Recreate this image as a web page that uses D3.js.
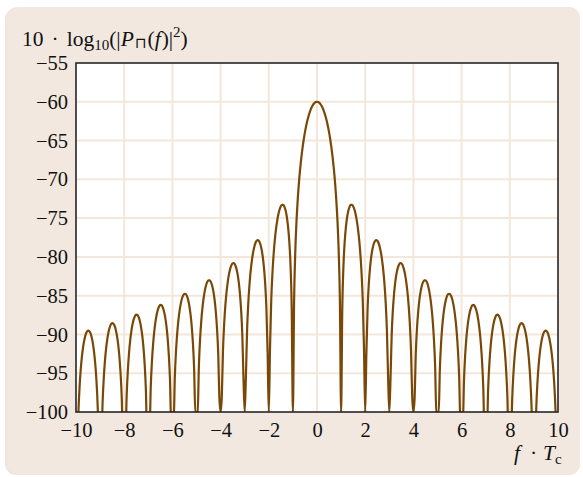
<!DOCTYPE html>
<html>
<head>
<meta charset="utf-8">
<script src="https://cdn.jsdelivr.net/npm/d3@7/dist/d3.min.js"></script>
<style>
  html, body { margin: 0; padding: 0; background: #ffffff; }
  svg { display: block; }
  text { font-family: "Liberation Serif", "Times New Roman", "DejaVu Serif", serif; fill: #111; }
</style>
</head>
<body>
<svg id="chart" width="583" height="477"></svg>
<script>
// Power spectrum of the rectangular pulse, in dB, sampled every 0.05 in f·Tc
// from −10 to 10. null marks a spectral zero (level below the plot floor).
const freqStart = -10;
const freqStep = 0.05;
const levelDb = [
  null, -106.01, -100.06, -96.67, -94.38, -92.73, -91.52, -90.64, -90.02, -89.65, -89.50, -89.56, -89.84, -90.36, -91.15, -92.28, -93.83, -96.03, -99.32, -105.19,
  null, -105.09, -99.13, -95.74, -93.45, -91.79, -90.57, -89.69, -89.07, -88.69, -88.53, -88.59, -88.86, -89.38, -90.17, -91.28, -92.84, -95.03, -98.31, -104.17,
  null, -104.06, -98.10, -94.70, -92.40, -90.74, -89.51, -88.62, -88.00, -87.61, -87.44, -87.49, -87.76, -88.27, -89.05, -90.16, -91.71, -93.89, -97.17, -103.02,
  null, -102.90, -96.92, -93.52, -91.21, -89.54, -88.31, -87.40, -86.77, -86.38, -86.20, -86.24, -86.50, -87.00, -87.77, -88.87, -90.41, -92.58, -95.85, -101.69,
  null, -101.55, -95.56, -92.15, -89.83, -88.15, -86.90, -85.99, -85.34, -84.94, -84.75, -84.78, -85.03, -85.51, -86.27, -87.36, -88.88, -91.04, -94.29, -100.12,
  null, -99.95, -93.95, -90.52, -88.18, -86.49, -85.23, -84.29, -83.63, -83.21, -83.01, -83.02, -83.25, -83.71, -84.45, -85.52, -87.02, -89.16, -92.40, -98.21,
  null, -97.99, -91.96, -88.51, -86.15, -84.43, -83.15, -82.19, -81.51, -81.06, -80.82, -80.81, -81.01, -81.45, -82.15, -83.19, -84.66, -86.77, -89.97, -95.74,
  null, -95.45, -89.39, -85.90, -83.50, -81.74, -80.41, -79.41, -78.68, -78.18, -77.90, -77.83, -77.98, -78.37, -79.02, -80.00, -81.41, -83.45, -86.59, -92.29,
  null, -91.86, -85.72, -82.15, -79.66, -77.81, -76.39, -75.29, -74.46, -73.86, -73.46, -73.28, -73.30, -73.55, -74.06, -74.89, -76.14, -78.02, -80.97, -86.48,
  null, -85.61, -79.23, -75.39, -72.62, -70.45, -68.69, -67.20, -65.94, -64.86, -63.92, -63.12, -62.42, -61.83, -61.33, -60.91, -60.58, -60.32, -60.14, -60.04,
  -60.00,
  -60.04, -60.14, -60.32, -60.58, -60.91, -61.33, -61.83, -62.42, -63.12, -63.92, -64.86, -65.94, -67.20, -68.69, -70.45, -72.62, -75.39, -79.23, -85.61, null,
  -86.48, -80.97, -78.02, -76.14, -74.89, -74.06, -73.55, -73.30, -73.28, -73.46, -73.86, -74.46, -75.29, -76.39, -77.81, -79.66, -82.15, -85.72, -91.86, null,
  -92.29, -86.59, -83.45, -81.41, -80.00, -79.02, -78.37, -77.98, -77.83, -77.90, -78.18, -78.68, -79.41, -80.41, -81.74, -83.50, -85.90, -89.39, -95.45, null,
  -95.74, -89.97, -86.77, -84.66, -83.19, -82.15, -81.45, -81.01, -80.81, -80.82, -81.06, -81.51, -82.19, -83.15, -84.43, -86.15, -88.51, -91.96, -97.99, null,
  -98.21, -92.40, -89.16, -87.02, -85.52, -84.45, -83.71, -83.25, -83.02, -83.01, -83.21, -83.63, -84.29, -85.23, -86.49, -88.18, -90.52, -93.95, -99.95, null,
  -100.12, -94.29, -91.04, -88.88, -87.36, -86.27, -85.51, -85.03, -84.78, -84.75, -84.94, -85.34, -85.99, -86.90, -88.15, -89.83, -92.15, -95.56, -101.55, null,
  -101.69, -95.85, -92.58, -90.41, -88.87, -87.77, -87.00, -86.50, -86.24, -86.20, -86.38, -86.77, -87.40, -88.31, -89.54, -91.21, -93.52, -96.92, -102.90, null,
  -103.02, -97.17, -93.89, -91.71, -90.16, -89.05, -88.27, -87.76, -87.49, -87.44, -87.61, -88.00, -88.62, -89.51, -90.74, -92.40, -94.70, -98.10, -104.06, null,
  -104.17, -98.31, -95.03, -92.84, -91.28, -90.17, -89.38, -88.86, -88.59, -88.53, -88.69, -89.07, -89.69, -90.57, -91.79, -93.45, -95.74, -99.13, -105.09, null,
  -105.19, -99.32, -96.03, -93.83, -92.28, -91.15, -90.36, -89.84, -89.56, -89.50, -89.65, -90.02, -90.64, -91.52, -92.73, -94.38, -96.67, -100.06, -106.01, null
];

const xTicks = [-10, -8, -6, -4, -2, 0, 2, 4, 6, 8, 10];
const yTicks = [-100, -95, -90, -85, -80, -75, -70, -65, -60, -55];
const xDomain = [-10, 10];
const yDomain = [-100, -55];

const svg = d3.select("#chart");
const plot = { left: 76, right: 558, top: 63, bottom: 412 };
const serif = "\"Liberation Serif\", \"Times New Roman\", serif";

// Background panel
svg.append("rect")
  .attr("x", 5).attr("y", 8).attr("width", 575).attr("height", 467)
  .attr("rx", 11).attr("fill", "#e9e6e3");
svg.append("rect")
  .attr("x", 7).attr("y", 7).attr("width", 573).attr("height", 467)
  .attr("rx", 10).attr("fill", "#f3e8df");

const x = d3.scaleLinear().domain(xDomain).range([plot.left, plot.right]);
const y = d3.scaleLinear().domain(yDomain).range([plot.bottom, plot.top]);

// Plot area
svg.append("rect")
  .attr("x", plot.left).attr("y", plot.top)
  .attr("width", plot.right - plot.left).attr("height", plot.bottom - plot.top)
  .attr("fill", "#ffffff");

// Grid
const grid = svg.append("g").attr("stroke", "#f3e7db").attr("stroke-width", 2);
grid.selectAll("line.v").data(xTicks.slice(1, -1)).join("line")
  .attr("x1", d => x(d)).attr("x2", d => x(d))
  .attr("y1", plot.top).attr("y2", plot.bottom);
grid.selectAll("line.h").data(yTicks.slice(1, -1)).join("line")
  .attr("y1", d => y(d)).attr("y2", d => y(d))
  .attr("x1", plot.left).attr("x2", plot.right);

// Spectrum curve, clipped at the plot floor
svg.append("clipPath").attr("id", "clip")
  .append("rect")
  .attr("x", plot.left).attr("y", plot.top)
  .attr("width", plot.right - plot.left).attr("height", plot.bottom - plot.top);

const points = levelDb.map((v, i) => ({ f: freqStart + i * freqStep, v: v == null ? yDomain[0] : v }));
const line = d3.line()
  .x(d => x(d.f))
  .y(d => y(d.v))
  .curve(d3.curveMonotoneX);

svg.append("path")
  .datum(points)
  .attr("clip-path", "url(#clip)")
  .attr("fill", "none")
  .attr("stroke", "#7a4806")
  .attr("stroke-width", 2.2)
  .attr("stroke-linejoin", "round")
  .attr("d", line);

// Frame
svg.append("rect")
  .attr("x", plot.left).attr("y", plot.top)
  .attr("width", plot.right - plot.left).attr("height", plot.bottom - plot.top)
  .attr("fill", "none").attr("stroke", "#262626").attr("stroke-width", 1.6);

// Axes (labels only)
const fmt = d3.format("d");
const xAxis = svg.append("g")
  .attr("transform", `translate(0,${plot.bottom})`)
  .call(d3.axisBottom(x).tickValues(xTicks).tickSize(0).tickPadding(10).tickFormat(fmt));
const yAxis = svg.append("g")
  .attr("transform", `translate(${plot.left},0)`)
  .call(d3.axisLeft(y).tickValues(yTicks).tickSize(0).tickPadding(8).tickFormat(fmt));
[xAxis, yAxis].forEach(g => {
  g.select(".domain").remove();
  g.selectAll("text")
    .attr("font-family", serif)
    .attr("font-size", 20.5)
    .attr("fill", "#111");
});

// Y-axis title
const title = svg.append("text")
  .attr("x", 22).attr("y", 46)
  .attr("font-size", 21.5);
title.append("tspan").text("10");
title.append("tspan").attr("dx", 8).text("·");
title.append("tspan").attr("dx", 8).text("log");
title.append("tspan").attr("font-size", 15).attr("dy", 4).text("10");
title.append("tspan").attr("dy", -4).text("(|");
title.append("tspan").attr("font-style", "italic").text("P");
title.append("tspan").attr("font-size", 15).attr("dy", 2).attr("dx", 1).attr("font-family", "\"DejaVu Sans\", sans-serif").text("⊓");
title.append("tspan").attr("dy", -2).attr("dx", 1).text("(");
title.append("tspan").attr("font-style", "italic").text("f");
title.append("tspan").attr("dx", 1).text(")|");
title.append("tspan").attr("font-size", 15).attr("dy", -9).text("2");
title.append("tspan").attr("dy", 9).text(")");

// X-axis title
const xt = svg.append("text")
  .attr("y", 460)
  .attr("font-size", 21.5);
xt.append("tspan").attr("x", 514).attr("font-style", "italic").text("f");
xt.append("tspan").attr("x", 530).text("·");
xt.append("tspan").attr("x", 543).attr("font-style", "italic").text("T");
xt.append("tspan").attr("font-size", 15).attr("dy", 4).text("c");
</script>
</body>
</html>
